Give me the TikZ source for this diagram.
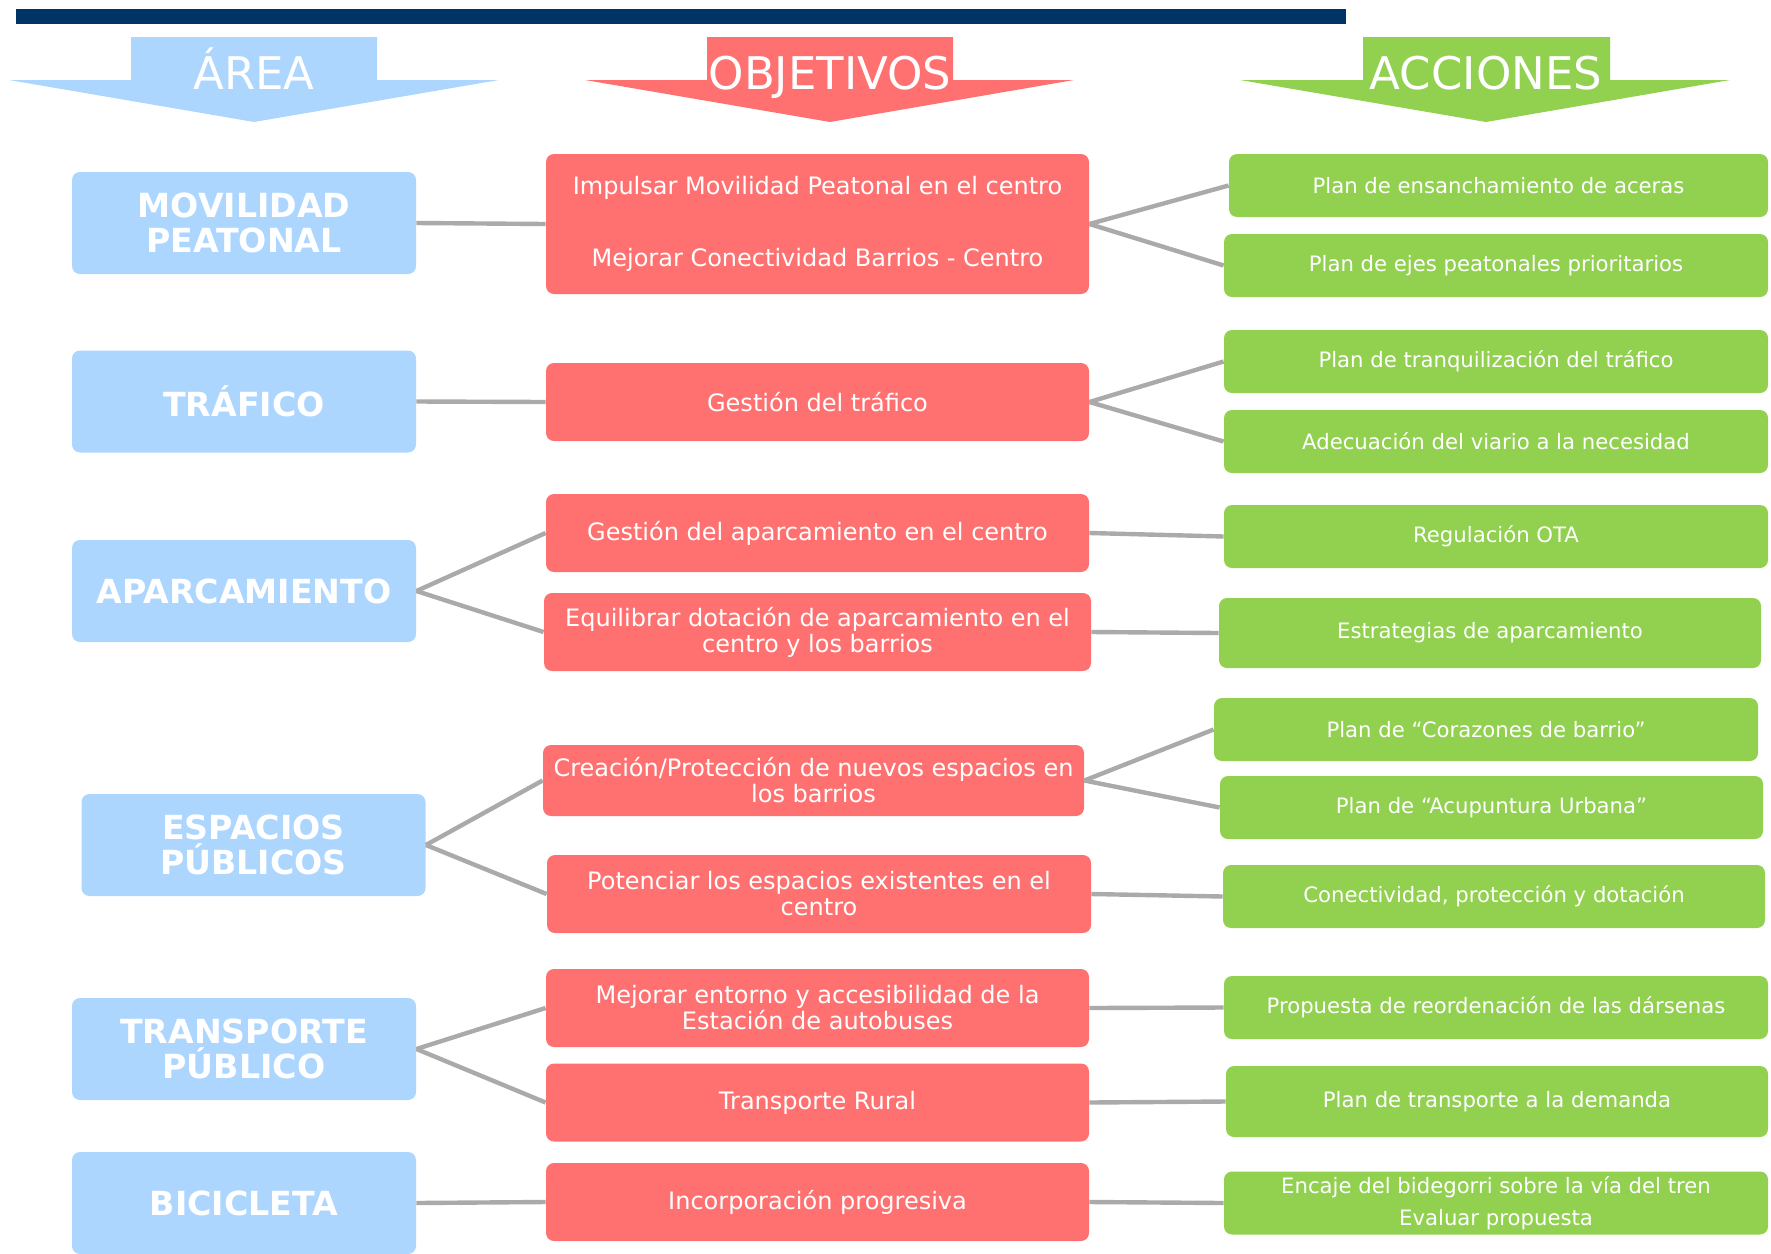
\documentclass[tikz,border=0pt]{standalone}
\usepackage{fontspec}
\setmainfont{DejaVu Sans}
\usepackage{tikz}
\definecolor{barnavy}{RGB}{0,51,102}
\definecolor{areablue}{RGB}{173,214,255}
\definecolor{objred}{RGB}{255,113,113}
\definecolor{accgreen}{RGB}{146,208,80}
\definecolor{linkgray}{RGB}{170,170,170}
\tikzset{
	box/.style      = {shape=rectangle, rounded corners=4pt,
		align=center, text=white, inner sep=0pt},
	areabox/.style  = {box, fill=areablue, font=\bfseries\fontsize{16.6}{17.5}\selectfont,
		minimum width=172pt, minimum height=51pt},
	objbox/.style   = {box, fill=objred, font=\fontsize{12}{13}\selectfont,
		minimum width=271.5pt, minimum height=39pt},
	accbox/.style   = {box, fill=accgreen, font=\fontsize{10.6}{12}\selectfont,
		minimum width=272pt, minimum height=31.5pt},
	enlace/.style   = {draw=linkgray, line width=2.2pt},
	cabecera/.style = {text=white, font=\fontsize{22.5}{24}\selectfont, inner sep=0pt, anchor=base}
}

\begin{document}
\begin{tikzpicture}
	[
	x = 0.5pt,
	y = -0.5pt
	]
	\useasboundingbox (0,0) rectangle (1771,1253);
	% barra y cabeceras
	\fill [barnavy] (16,9) rectangle (1346,24);
	\fill [areablue] (131,37) -- (377,37) -- (377,80) -- (499,80) -- (254,122) -- (9,80) -- (131,80) -- cycle;
	\fill [objred] (707,37) -- (953,37) -- (953,80) -- (1074,80) -- (830,122) -- (585,80) -- (707,80) -- cycle;
	\fill [accgreen] (1363,37) -- (1610,37) -- (1610,80) -- (1730,80) -- (1486,122) -- (1240,80) -- (1363,80) -- cycle;
	\node [cabecera] (harea) at (254,89) {ÁREA};
	\node [cabecera] (hobj) at (830,89) {OBJETIVOS};
	\node [cabecera] (hacc) at (1486,89) {ACCIONES};
	
	% areas
	\node [areabox] (mov) at (244,223) {MOVILIDAD\\PEATONAL};
	\node [areabox] (traf) at (244,401.5) {TRÁFICO};
	\node [areabox] (apar) at (244,591) {APARCAMIENTO};
	\node [areabox] (esp) at (253.5,845) {ESPACIOS\\PÚBLICOS};
	\node [areabox] (trans) at (244,1049) {TRANSPORTE\\PÚBLICO};
	\node [areabox] (bici) at (244,1203) {BICICLETA};
	
	% objetivos
	\node [objbox, minimum height=70pt] (imp) at (817.5,224)
	{Impulsar Movilidad Peatonal en el centro\\[23pt]Mejorar Conectividad Barrios - Centro};
	\node [objbox] (gtraf) at (817.5,402) {Gestión del tráfico};
	\node [objbox] (gapar) at (817.5,533) {Gestión del aparcamiento en el centro};
	\node [objbox, minimum width=273.5pt] (equi) at (817.5,632)
	{Equilibrar dotación de aparcamiento en el\\centro y los barrios};
	\node [objbox, minimum width=270.5pt, minimum height=35.5pt] (crea) at (813.5,780.5)
	{Creación/Protección de nuevos espacios en\\los barrios};
	\node [objbox, minimum width=272pt] (pot) at (819,894)
	{Potenciar los espacios existentes en el\\centro};
	\node [objbox] (mej) at (817.5,1008)
	{Mejorar entorno y accesibilidad de la\\Estación de autobuses};
	\node [objbox] (rural) at (817.5,1102.5) {Transporte Rural};
	\node [objbox] (incorp) at (817.5,1202) {Incorporación progresiva};
	
	% acciones
	\node [accbox, minimum width=269.5pt] (ens) at (1498.5,185.5) {Plan de ensanchamiento de aceras};
	\node [accbox] (ejes) at (1496,265.5) {Plan de ejes peatonales prioritarios};
	\node [accbox] (tranq) at (1496,361.5) {Plan de tranquilización del tráfico};
	\node [accbox] (adec) at (1496,441.5) {Adecuación del viario a la necesidad};
	\node [accbox] (ota) at (1496,536.5) {Regulación OTA};
	\node [accbox, minimum width=271pt, minimum height=35pt] (estr) at (1490,633) {Estrategias de aparcamiento};
	\node [accbox] (cora) at (1486,729.5) {Plan de “Corazones de barrio”};
	\node [accbox, minimum width=271.5pt] (acup) at (1491.5,807.5) {Plan de “Acupuntura Urbana”};
	\node [accbox, minimum width=271pt] (conec) at (1494,896.5) {Conectividad, protección y dotación};
	\node [accbox] (reord) at (1496,1007.5) {Propuesta de reordenación de las dársenas};
	\node [accbox, minimum width=271pt, minimum height=35.5pt] (dem) at (1497,1101.5) {Plan de transporte a la demanda};
	\node [accbox] (enc) at (1496,1203)
	{Encaje del bidegorri sobre la vía del tren\\[4pt]Evaluar propuesta};
	
	% enlaces area - objetivo
	\draw [enlace] (mov.east) -- (imp.west);
	\draw [enlace] (traf.east) -- (gtraf.west);
	\draw [enlace] (apar.east) -- (gapar.west);
	\draw [enlace] (apar.east) -- (equi.west);
	\draw [enlace] (esp.east) -- (crea.west);
	\draw [enlace] (esp.east) -- (pot.west);
	\draw [enlace] (trans.east) -- (mej.west);
	\draw [enlace] (trans.east) -- (rural.west);
	\draw [enlace] (bici.east) -- (incorp.west);
	% enlaces objetivo - accion
	\draw [enlace] (imp.east) -- (ens.west);
	\draw [enlace] (imp.east) -- (ejes.west);
	\draw [enlace] (gtraf.east) -- (tranq.west);
	\draw [enlace] (gtraf.east) -- (adec.west);
	\draw [enlace] (gapar.east) -- (ota.west);
	\draw [enlace] (equi.east) -- (estr.west);
	\draw [enlace] (crea.east) -- (cora.west);
	\draw [enlace] (crea.east) -- (acup.west);
	\draw [enlace] (pot.east) -- (conec.west);
	\draw [enlace] (mej.east) -- (reord.west);
	\draw [enlace] (rural.east) -- (dem.west);
	\draw [enlace] (incorp.east) -- (enc.west);
\end{tikzpicture}
\end{document}
